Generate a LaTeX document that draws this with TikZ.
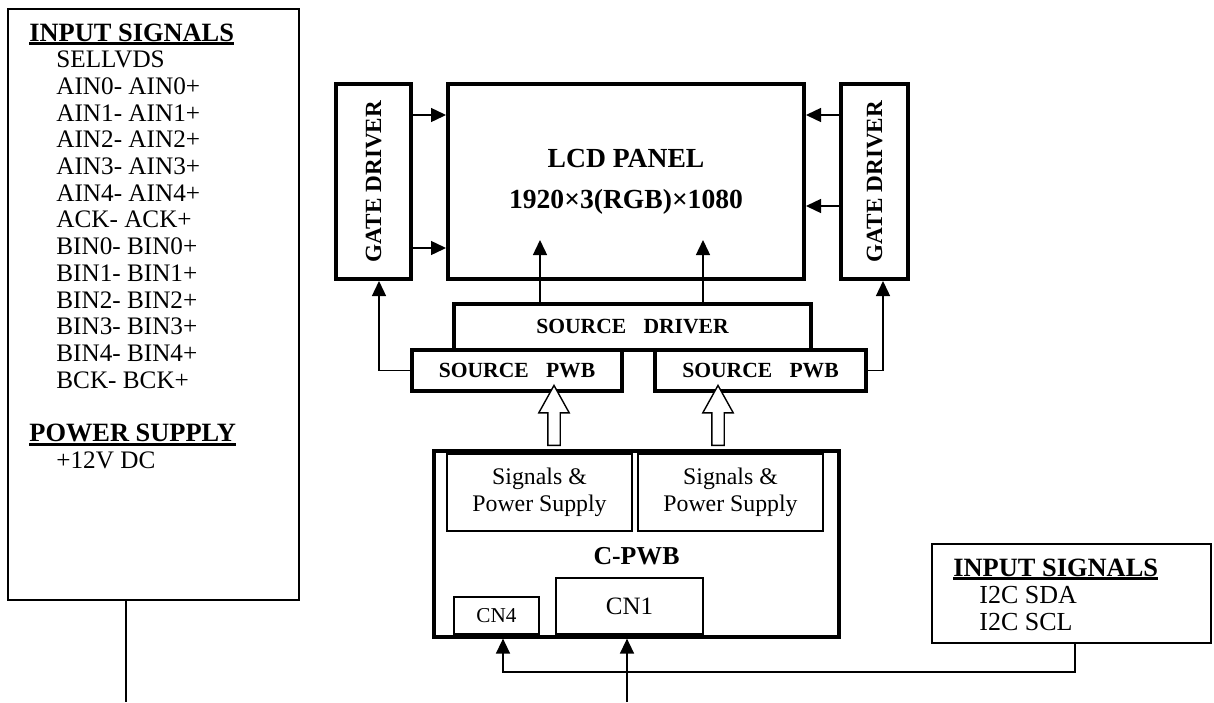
\documentclass[tikz,border=0pt]{standalone}
\usepackage{fontspec}
\setmainfont{Liberation Serif}
\usetikzlibrary{arrows.meta,positioning,calc,shapes.arrows}
\newsavebox{\headbox}
\newcommand{\SigHead}[1]{\sbox{\headbox}{\bfseries #1}\rlap{\usebox{\headbox}}\rule[-2pt]{\wd\headbox}{1.3pt}}

\begin{document}
\begin{tikzpicture}[
  x=0.5pt, y=-0.5pt,
  blk/.style={draw, line width=2pt, inner sep=0pt, font=\fontsize{10.8}{12}\selectfont\bfseries},
  gate/.style={blk, minimum height=97.5pt, font=\fontsize{11.6}{13}\selectfont\bfseries},
  sub/.style={draw, line width=0.6pt, inner sep=0pt, align=center, font=\fontsize{11.9}{13.35}\selectfont},
  inbox/.style={draw, line width=1.2pt, inner sep=0pt},
  head/.style={anchor=base west, inner sep=0pt, font=\fontsize{13.2}{14}\selectfont},
  item/.style={anchor=base west, inner sep=0pt, font=\fontsize{12.6}{13.35}\selectfont},
  arr/.style={-{Triangle[length=7.5pt,width=7pt]}, line width=0.7pt},
  wire/.style={line width=0.7pt},
  hollow/.style={single arrow, draw, fill=white, line width=0.7pt, rotate=90, minimum height=30pt, inner xsep=0pt, inner ysep=2.75pt, single arrow head extend=4.5pt, single arrow tip angle=58}
]
\useasboundingbox (0,0) rectangle (1214,702);

% input signals (LVDS side)
\node[inbox, minimum width=145.5pt, minimum height=295.5pt] (sigbox) at (153.5,304.5) {};
\node[head] (sighead) at (29,41) {\SigHead{INPUT SIGNALS}};
\foreach \sig [count=\i] in {SELLVDS, AIN0- AIN0+, AIN1- AIN1+, AIN2- AIN2+, AIN3- AIN3+, AIN4- AIN4+, ACK- ACK+, BIN0- BIN0+, BIN1- BIN1+, BIN2- BIN2+, BIN3- BIN3+, BIN4- BIN4+, BCK- BCK+}
  \node[item] (sig\i) at (56,41+26.7*\i) {\sig};
\node[head] (pwrhead) at (29,441.5) {\SigHead{POWER SUPPLY}};
\node[item] (pwr) at (56,468) {+12V DC};

% panel and drivers
\node[blk, minimum width=178pt, minimum height=97.5pt, align=center, font=\fontsize{13.8}{20.5}\selectfont\bfseries] (lcd) at (626,181.5) {LCD PANEL\\1920×3(RGB)×1080};
\node[gate, minimum width=37.5pt] (gdl) at (373.5,181.5) {\rotatebox{90}{GATE DRIVER}};
\node[gate, minimum width=33.5pt] (gdr) at (874.5,181.5) {\rotatebox{90}{GATE DRIVER}};
\node[blk, minimum width=178.5pt, minimum height=23pt] (srcdrv) at (632.5,327) {SOURCE\hspace{.8em}DRIVER};
\node[blk, minimum width=105pt, minimum height=20.5pt] (pwbl) at (517,370.5) {SOURCE\hspace{.8em}PWB};
\node[blk, minimum width=105.5pt, minimum height=20.5pt] (pwbr) at (760.5,370.5) {SOURCE\hspace{.8em}PWB};

% C-PWB
\node[draw, line width=1.6pt, minimum width=202.5pt, minimum height=93pt] (cpwb) at (636.5,544) {};
\node[font=\fontsize{12.9}{14}\selectfont\bfseries] (cpwbname) at (636.5,556) {C-PWB};
\node[sub, minimum width=92.5pt, minimum height=38.5pt] (sp1) at (539.5,492.5) {Signals \&\\Power Supply};
\node[sub, minimum width=92.5pt, minimum height=38.5pt] (sp2) at (730.5,492.5) {Signals \&\\Power Supply};
\node[sub, minimum width=42.5pt, minimum height=18.5pt, font=\fontsize{10.6}{12}\selectfont] (cn4) at (496.5,615.5) {CN4};
\node[sub, minimum width=73.5pt, minimum height=28pt, font=\fontsize{12.5}{14}\selectfont] (cn1) at (629.5,606) {CN1};

% input signals (I2C)
\node[draw, line width=1pt, minimum width=139.5pt, minimum height=49.5pt] (i2cbox) at (1071.5,593.5) {};
\node[head] (i2chead) at (953,576) {\SigHead{INPUT SIGNALS}};
\node[item, font=\fontsize{13}{14}\selectfont] (sda) at (979,603) {I2C SDA};
\node[item, font=\fontsize{13}{14}\selectfont] (scl) at (979,630) {I2C SCL};

% connections
\draw[arr] (gdl.east |- 0,115) -- (lcd.west |- 0,115);
\draw[arr] (gdl.east |- 0,248) -- (lcd.west |- 0,248);
\draw[arr] (gdr.west |- 0,115) -- (lcd.east |- 0,115);
\draw[arr] (gdr.west |- 0,206) -- (lcd.east |- 0,206);
\draw[arr] (srcdrv.north -| 540,0) -- (540,240);
\draw[arr] (srcdrv.north -| 703,0) -- (703,240);
\draw[arr] (pwbl.west) -| ([xshift=2.75pt]gdl.south);
\draw[arr] (pwbr.east) -| ([xshift=4.25pt]gdr.south);
\node[hollow] (feedl) at (554,421) {};
\node[hollow] (feedr) at (718,421) {};
\draw[arr] (i2cbox.south -| 1075,0) -- (1075,672) -| (cpwb.south -| 503,0);
\coordinate (cn1in) at (627,702);
\draw[arr] (cn1in) -- (cpwb.south -| cn1in);
\draw[wire] (sigbox.south -| 126,0) -- (126,702);
\end{tikzpicture}
\end{document}
